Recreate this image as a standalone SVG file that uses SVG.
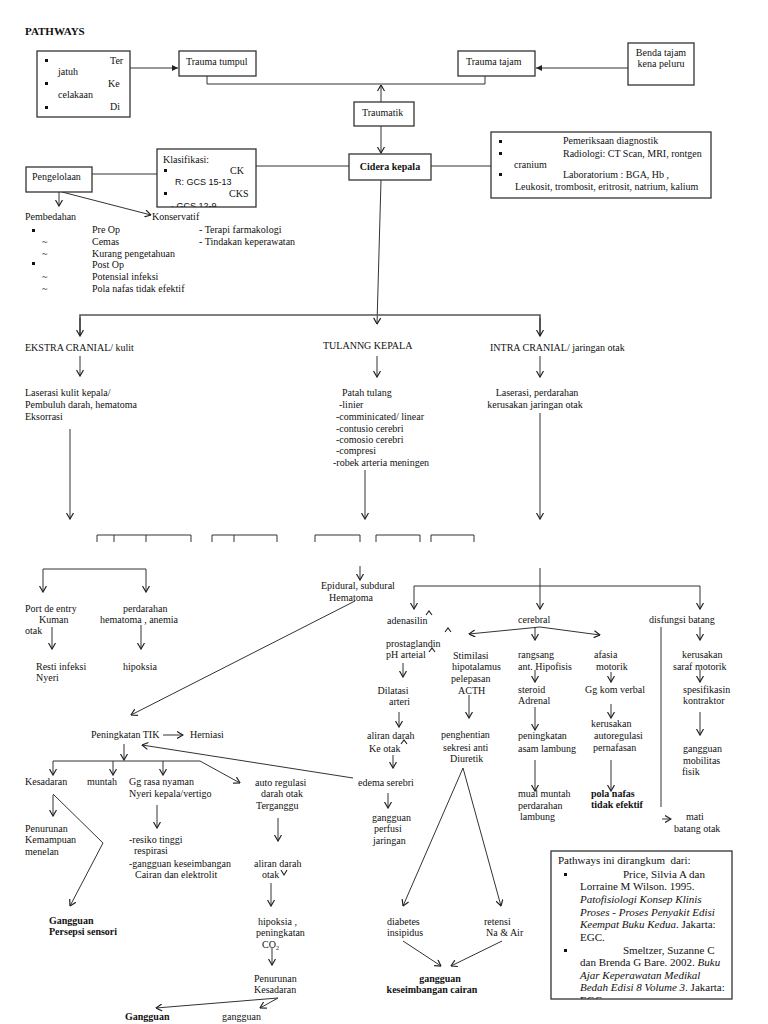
<svg xmlns="http://www.w3.org/2000/svg" width="768" height="1024" viewBox="0 0 768 1024">
<style>
text{font-family:"Liberation Serif","Times New Roman",serif;font-size:10px;fill:#111}
.b{font-weight:bold}
.s{font-family:"Liberation Sans",Arial,sans-serif;font-size:9px}
.r{font-size:11px}
.i{font-style:italic}
.box{fill:#fff;stroke:#333;stroke-width:1.3}
.ln{fill:none;stroke:#333;stroke-width:1}
.a{fill:none;stroke:#333;stroke-width:1;marker-end:url(#open)}
.f{fill:none;stroke:#333;stroke-width:1;marker-end:url(#fill)}
.main{fill:none;stroke:#555;stroke-width:1.6}
.car{fill:none;stroke:#222;stroke-width:1.1}
.bul{fill:#111}
</style>
<defs>
<marker id="open" viewBox="0 0 7 8" refX="6.5" refY="4" markerWidth="7" markerHeight="8" markerUnits="userSpaceOnUse" orient="auto"><path d="M0.5,0.5 L6.5,4 L0.5,7.5" fill="none" stroke="#222" stroke-width="1.2"/></marker>
<marker id="fill" viewBox="0 0 6 6" refX="6" refY="3" markerWidth="6" markerHeight="6" markerUnits="userSpaceOnUse" orient="auto"><path d="M0,0 L6,3 L0,6z" fill="#222"/></marker>
<clipPath id="clipK"><rect x="157" y="149" width="99" height="58"/></clipPath>
<clipPath id="clipR"><rect x="551" y="851" width="181" height="148"/></clipPath>
</defs>
<rect width="768" height="1024" fill="#fff"/>
<text x="25" y="35" class="b r">PATHWAYS</text>

<g id="connectors">
<path class="f" d="M130,68 L178,68"/>
<path class="f" d="M628,68 L536,68"/>
<path class="ln" d="M207,76 L207,84 L485,84 L485,76"/>
<path class="a" d="M381,102 L381,85"/>
<path class="a" d="M381,126 L381,153"/>
<path class="ln" d="M92,174 L157,174"/>
<path class="ln" d="M256,166 L349,166"/>
<path class="ln" d="M431,166 L491,166"/>
<path class="a" d="M59,192 L59,206"/>
<path class="a" d="M62,192 L151,215"/>
<path class="a" d="M381,180 L377,324"/>
<path class="main" d="M80,336 L80,315 L540,315 L540,336"/>
<path class="a" d="M80,318 L80,336"/>
<path class="a" d="M540,318 L540,336"/>
<path class="a" d="M80,356 L80,376"/>
<path class="a" d="M377,356 L377,377"/>
<path class="a" d="M540,356 L540,377"/>
<path class="a" d="M70,429 L70,519"/>
<path class="a" d="M365,470 L365,519"/>
<path class="a" d="M540,413 L540,519"/>
<path class="ln" d="M97,542 L97,535 L191,535 L191,542 M114,535 L114,542 M146,535 L146,542"/>
<path class="ln" d="M212,542 L212,535 L277,535 L277,542 M234,535 L234,542"/>
<path class="ln" d="M315,542 L315,535 L360,535 L360,542"/>
<path class="ln" d="M376,542 L376,535 L420,535 L420,542"/>
<path class="ln" d="M431,542 L431,535 L474,535 L474,542"/>
<path class="ln" d="M43,569 L146,569"/>
<path class="a" d="M43,569 L43,592"/>
<path class="a" d="M146,569 L146,592"/>
<path class="a" d="M52,627 L52,649"/>
<path class="a" d="M141,625 L141,649"/>
<path class="a" d="M360,566 L360,580"/>
<path class="a" d="M355,601 L131,715"/>
<path class="a" d="M540,568 L540,609"/>
<path class="ln" d="M414,586 L700,586"/>
<path class="a" d="M414,586 L414,609"/>
<path class="a" d="M700,586 L700,609"/>
<path class="a" d="M540,627 L469,634"/>
<path class="a" d="M540,627 L600,635"/>
<path class="a" d="M535,627 L535,640"/>
<path class="car" d="M426,615 L429,611 L432,615 M445,632 L448,628 L451,632 M429,652 L432,648 L435,652 M401,744 L404,740 L407,744"/>
<path class="a" d="M403,663 L403,677"/>
<path class="a" d="M399,712 L399,727"/>
<path class="a" d="M393,755 L393,768"/>
<path class="a" d="M469,695 L469,718"/>
<path class="a" d="M535,670 L535,682"/>
<path class="a" d="M535,707 L535,730"/>
<path class="a" d="M535,760 L535,791"/>
<path class="a" d="M611,672 L611,682"/>
<path class="a" d="M611,704 L611,718"/>
<path class="a" d="M611,760 L611,791"/>
<path class="ln" d="M661,627 L661,807"/>
<path class="a" d="M662,819 L671,819"/>
<path class="a" d="M700,627 L700,640"/>
<path class="a" d="M700,670 L700,682"/>
<path class="a" d="M700,712 L700,735"/>
<path class="a" d="M163,735 L183,735"/>
<path class="a" d="M353,778 L142,745"/>
<path class="a" d="M124,744 L124,760"/>
<path class="a" d="M53,761 L200,761 L240,783"/>
<path class="a" d="M53,761 L53,775"/>
<path class="a" d="M113,761 L113,775"/>
<path class="a" d="M163,761 L163,775"/>
<path class="a" d="M53,795 L53,816"/>
<path class="a" d="M53,794 L103,843 L70,906"/>
<path class="a" d="M157,805 L157,828"/>
<path class="a" d="M278,818 L278,841"/>
<path class="car" d="M281,870 L284,875 L287,870"/>
<path class="a" d="M271,883 L271,906"/>
<path class="a" d="M272,948 L272,965"/>
<path class="a" d="M278,998 L156,1008"/>
<path class="a" d="M278,998 L260,1008"/>
<path class="a" d="M388,793 L388,808"/>
<path class="a" d="M463,768 L403,906"/>
<path class="a" d="M463,768 L501,906"/>
<path class="a" d="M403,941 L441,966"/>
<path class="a" d="M502,941 L451,966"/>
</g>

<g id="n-penyebab">
<rect class="box" x="37" y="51" width="93" height="66"/>
<rect class="bul" x="45" y="59" width="3" height="3"/>
<rect class="bul" x="45" y="82" width="3" height="3"/>
<rect class="bul" x="45" y="106" width="3" height="3"/>
<text x="110" y="64">Ter</text>
<text x="58" y="75">jatuh</text>
<text x="108" y="87">Ke</text>
<text x="58" y="98">celakaan</text>
<text x="110" y="110">Di</text>
</g>
<g id="n-trauma-tumpul"><rect class="box" x="179" y="51" width="77" height="25"/><text x="186" y="65">Trauma tumpul</text></g>
<g id="n-trauma-tajam"><rect class="box" x="458" y="51" width="77" height="25"/><text x="466" y="65">Trauma tajam</text></g>
<g id="n-benda"><rect class="box" x="628" y="43" width="66" height="42"/><text x="661" y="56" text-anchor="middle">Benda tajam</text><text x="661" y="67" text-anchor="middle">kena peluru</text></g>
<g id="n-traumatik"><rect class="box" x="354" y="102" width="60" height="24"/><text x="362" y="116">Traumatik</text></g>
<g id="n-cidera"><rect class="box" x="349" y="154" width="82" height="26"/><text x="390" y="170" text-anchor="middle" class="b">Cidera kepala</text></g>
<g id="n-klasifikasi">
<rect class="box" x="157" y="149" width="99" height="58"/>
<g clip-path="url(#clipK)">
<text x="163" y="163">Klasifikasi:</text>
<rect class="bul" x="164" y="169" width="3" height="3"/>
<text x="230" y="174">CK</text>
<text x="175" y="185" class="s">R: GCS 15-13</text>
<rect class="bul" x="164" y="192" width="3" height="3"/>
<text x="229" y="197">CKS</text>
<text x="171" y="209" class="s">· GCS 12-9</text>
</g>
</g>
<g id="n-pengelolaan"><rect class="box" x="26" y="167" width="66" height="25"/><text x="32" y="180">Pengelolaan</text></g>
<g id="n-diagnostik">
<rect class="box" x="491" y="132" width="220" height="66"/>
<rect class="bul" x="499" y="140" width="3" height="3"/>
<rect class="bul" x="499" y="152" width="3" height="3"/>
<rect class="bul" x="499" y="173" width="3" height="3"/>
<text x="563" y="144">Pemeriksaan diagnostik</text>
<text x="563" y="157">Radiologi: CT Scan, MRI, rontgen</text>
<text x="514" y="168">cranium</text>
<text x="563" y="178">Laboratorium : BGA, Hb ,</text>
<text x="515" y="190">Leukosit, trombosit, eritrosit, natrium, kalium</text>
</g>
<g id="n-penatalaksanaan">
<text x="25" y="220">Pembedahan</text>
<text x="152" y="220">Konservatif</text>
<rect class="bul" x="32" y="229" width="3" height="3"/>
<text x="92" y="233">Pre Op</text>
<text x="199" y="233">- Terapi farmakologi</text>
<text x="42" y="245">~</text>
<text x="92" y="245">Cemas</text>
<text x="199" y="245">- Tindakan  keperawatan</text>
<text x="42" y="257">~</text>
<text x="92" y="257">Kurang pengetahuan</text>
<rect class="bul" x="32" y="262" width="3" height="3"/>
<text x="92" y="268">Post Op</text>
<text x="42" y="280">~</text>
<text x="92" y="280">Potensial infeksi</text>
<text x="42" y="292">~</text>
<text x="92" y="292">Pola nafas tidak efektif</text>
</g>
<g id="n-ekstra">
<text x="25" y="351">EKSTRA CRANIAL/ kulit</text>
<text x="25" y="396">Laserasi kulit kepala/</text>
<text x="25" y="408">Pembuluh darah, hematoma</text>
<text x="25" y="420">Eksorrasi</text>
</g>
<g id="n-tulang">
<text x="323" y="349">TULANNG KEPALA</text>
<text x="342" y="396">Patah tulang</text>
<text x="339" y="408">-linier</text>
<text x="336" y="420">-comminicated/ linear</text>
<text x="336" y="432">-contusio cerebri</text>
<text x="336" y="443">-comosio cerebri</text>
<text x="336" y="454">-compresi</text>
<text x="333" y="466">-robek arteria meningen</text>
</g>
<g id="n-intra">
<text x="490" y="351">INTRA CRANIAL/ jaringan otak</text>
<text x="537" y="396" text-anchor="middle">Laserasi, perdarahan</text>
<text x="535" y="408" text-anchor="middle">kerusakan jaringan otak</text>
</g>
<g id="n-port"><text x="25" y="612">Port de entry</text><text x="39" y="623">Kuman</text><text x="25" y="634">otak</text></g>
<g id="n-perdarahan"><text x="123" y="612">perdarahan</text><text x="100" y="623">hematoma , anemia</text></g>
<g id="n-resti"><text x="36" y="670">Resti infeksi</text><text x="36" y="681">Nyeri</text></g>
<g id="n-hipoksia1"><text x="123" y="670">hipoksia</text></g>
<g id="n-epidural"><text x="321" y="589">Epidural, subdural</text><text x="329" y="601">Hematoma</text></g>
<g id="n-adenasilin"><text x="387" y="624">adenasilin</text></g>
<g id="n-prostaglandin"><text x="386" y="647">prostaglandin</text><text x="386" y="658">pH arteial</text></g>
<g id="n-dilatasi"><text x="393" y="694" text-anchor="middle">Dilatasi</text><text x="389" y="705">arteri</text></g>
<g id="n-aliran1"><text x="367" y="739">aliran darah</text><text x="369" y="752">Ke otak</text></g>
<g id="n-stimulasi"><text x="453" y="659">Stimilasi</text><text x="452" y="670">hipotalamus</text><text x="451" y="682">pelepasan</text><text x="458" y="694">ACTH</text></g>
<g id="n-penghentian"><text x="441" y="738">penghentian</text><text x="443" y="751">sekresi anti</text><text x="450" y="762">Diuretik</text></g>
<g id="n-cerebral"><text x="518" y="623">cerebral</text></g>
<g id="n-rangsang"><text x="518" y="658">rangsang</text><text x="518" y="670">ant. Hipofisis</text></g>
<g id="n-steroid"><text x="518" y="693">steroid</text><text x="518" y="704">Adrenal</text></g>
<g id="n-asam"><text x="518" y="739">peningkatan</text><text x="518" y="752">asam lambung</text></g>
<g id="n-mual"><text x="518" y="797">mual muntah</text><text x="518" y="809">perdarahan</text><text x="520" y="820">lambung</text></g>
<g id="n-afasia"><text x="594" y="658">afasia</text><text x="596" y="670">motorik</text></g>
<g id="n-ggkom"><text x="585" y="693">Gg kom verbal</text></g>
<g id="n-autoregulasi2"><text x="591" y="727">kerusakan</text><text x="594" y="739">autoregulasi</text><text x="593" y="751">pernafasan</text></g>
<g id="n-polanafas"><text x="591" y="797" class="b">pola nafas</text><text x="591" y="808" class="b">tidak efektif</text></g>
<g id="n-disfungsi"><text x="649" y="623">disfungsi batang</text></g>
<g id="n-saraf"><text x="682" y="658">kerusakan</text><text x="673" y="670">saraf motorik</text></g>
<g id="n-spesifikasi"><text x="683" y="693">spesifikasin</text><text x="683" y="704">kontraktor</text></g>
<g id="n-mobilitas"><text x="683" y="752">gangguan</text><text x="683" y="764">mobilitas</text><text x="682" y="775">fisik</text></g>
<g id="n-mati"><text x="686" y="820">mati</text><text x="674" y="832">batang otak</text></g>
<g id="n-tik"><text x="91" y="738">Peningkatan TIK</text><text x="190" y="738">Herniasi</text></g>
<g id="n-kesadaran"><text x="25" y="785">Kesadaran</text></g>
<g id="n-muntah"><text x="87" y="785">muntah</text></g>
<g id="n-ggrasa"><text x="129" y="785">Gg rasa nyaman</text><text x="129" y="797">Nyeri kepala/vertigo</text></g>
<g id="n-menelan"><text x="25" y="832">Penurunan</text><text x="25" y="843">Kemampuan</text><text x="25" y="855">menelan</text></g>
<g id="n-resiko"><text x="129" y="843">-resiko tinggi</text><text x="134" y="854">respirasi</text><text x="129" y="867">-gangguan keseimbangan</text><text x="135" y="878">Cairan dan elektrolit</text></g>
<g id="n-persepsi"><text x="49" y="924" class="b">Gangguan</text><text x="49" y="935" class="b">Persepsi sensori</text></g>
<g id="n-autoregulasi"><text x="255" y="786">auto regulasi</text><text x="261" y="797">darah otak</text><text x="256" y="809">Terganggu</text></g>
<g id="n-aliran2"><text x="254" y="867">aliran darah</text><text x="262" y="878">otak</text></g>
<g id="n-hipoksia2"><text x="258" y="925">hipoksia ,</text><text x="256" y="936">peningkatan</text><text x="262" y="948">CO<tspan font-size="6" dy="2">2</tspan></text></g>
<g id="n-penurunan"><text x="254" y="982">Penurunan</text><text x="254" y="993">Kesadaran</text></g>
<g id="n-bawah"><text x="125" y="1020" class="b">Gangguan</text><text x="222" y="1020">gangguan</text></g>
<g id="n-edema"><text x="358" y="786">edema serebri</text></g>
<g id="n-perfusi"><text x="372" y="821">gangguan</text><text x="374" y="832">perfusi</text><text x="373" y="844">jaringan</text></g>
<g id="n-diabetes"><text x="387" y="925">diabetes</text><text x="387" y="936">insipidus</text></g>
<g id="n-retensi"><text x="484" y="925">retensi</text><text x="486" y="936">Na &amp; Air</text></g>
<g id="n-cairan"><text x="440" y="982" text-anchor="middle" class="b">gangguan</text><text x="432" y="993" text-anchor="middle" class="b">keseimbangan cairan</text></g>
<g id="n-referensi">
<rect class="box" x="551" y="851" width="181" height="148"/>
<g clip-path="url(#clipR)">
<text x="558" y="864" class="r" xml:space="preserve">Pathways ini dirangkum  dari:</text>
<rect class="bul" x="564" y="873" width="3" height="3"/>
<text x="623" y="878" class="r">Price, Silvia A dan</text>
<text x="580" y="890" class="r">Lorraine M Wilson. 1995.</text>
<text x="580" y="903" class="r i">Patofisiologi Konsep Klinis</text>
<text x="580" y="916" class="r i">Proses - Proses Penyakit Edisi</text>
<text x="580" y="928" class="r"><tspan class="i">Keempat Buku Kedua</tspan>. Jakarta:</text>
<text x="580" y="941" class="r">EGC.</text>
<rect class="bul" x="564" y="949" width="3" height="3"/>
<text x="623" y="954" class="r">Smeltzer, Suzanne C</text>
<text x="580" y="966" class="r">dan Brenda G Bare. 2002. <tspan class="i">Buku</tspan></text>
<text x="580" y="979" class="r i">Ajar Keperawatan Medikal</text>
<text x="580" y="991" class="r"><tspan class="i">Bedah Edisi 8 Volume 3</tspan>. Jakarta:</text>
<text x="580" y="1004" class="r">EGC</text>
</g>
</g>
</svg>
